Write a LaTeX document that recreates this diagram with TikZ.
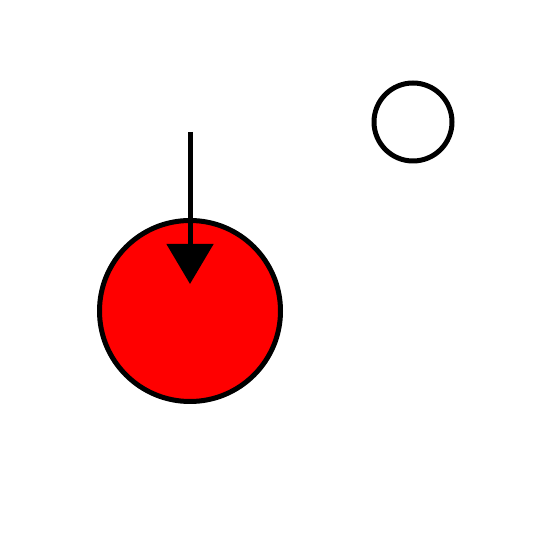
\documentclass[tikz,border=0pt]{standalone}
\usepackage{tikz}
\usetikzlibrary{arrows.meta,calc}

\tikzset{
  ball/.style={circle, draw=black, line width=0.05cm, inner sep=0pt},
  drop/.style={draw=black, line width=0.05cm, -{Triangle[length=0.4cm, width=0.46cm]}}
}

\begin{document}
\begin{tikzpicture}
\useasboundingbox (0,0) rectangle (5.4,5.4);

\node[ball, fill=red, minimum size=1.81cm] (bigball) at (1.90,2.29) {};
\node[ball, fill=white, minimum size=0.78cm] (smallball) at (4.13,4.18) {};

\coordinate (start) at (1.90,4.08);
\coordinate (tip) at ($(bigball.center)+(0,0.27)$);
\draw[drop] (start) -- (tip);
\end{tikzpicture}
\end{document}
